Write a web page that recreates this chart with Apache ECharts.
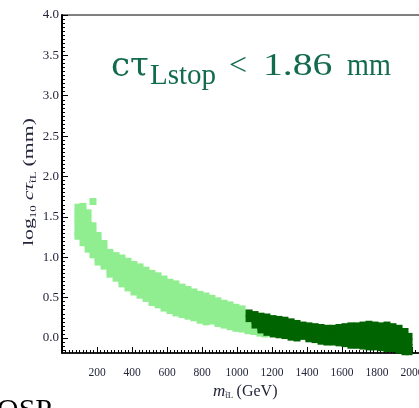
<!DOCTYPE html>
<html>
<head>
<meta charset="utf-8">
<script src="https://cdn.jsdelivr.net/npm/echarts@6/dist/echarts.min.js"></script>
<style>html,body{margin:0;padding:0;background:#fff;}#c{width:419px;height:408px;}</style>
</head>
<body>
<div id="c"></div>
<script>
// x tick labels (GeV) and y tick labels
const xTicks = [200, 400, 600, 800, 1000, 1200, 1400, 1600, 1800, 2000];
const yTicks = [0.0, 0.5, 1.0, 1.5, 2.0, 2.5, 3.0, 3.5, 4.0];

// Light-green points (m_stop < ~1150 GeV): [mass, list of log10 ctau values read in that column]
const lightColumns = [
  [91,  [1.62, 1.55, 1.47, 1.40, 1.32, 1.26]],
  [120, [1.63, 1.56, 1.48, 1.41, 1.33, 1.26, 1.18]],
  [149, [1.55, 1.47, 1.40, 1.32, 1.25, 1.17, 1.10]],
  [177, [1.69, 1.39, 1.32, 1.24, 1.17, 1.10, 1.03]],
  [206, [1.27, 1.20, 1.13, 1.06, 0.99, 0.94]],
  [240, [1.17, 1.10, 1.03, 0.96, 0.89]],
  [274, [1.06, 0.99, 0.92, 0.85, 0.79]],
  [309, [1.02, 0.95, 0.88, 0.81, 0.74]],
  [343, [0.99, 0.92, 0.85, 0.78, 0.71, 0.67]],
  [377, [0.95, 0.88, 0.81, 0.74, 0.67, 0.62]],
  [411, [0.91, 0.84, 0.77, 0.70, 0.63, 0.57]],
  [446, [0.88, 0.81, 0.74, 0.67, 0.60, 0.53]],
  [480, [0.84, 0.77, 0.70, 0.63, 0.56, 0.49]],
  [514, [0.80, 0.73, 0.66, 0.59, 0.52, 0.44]],
  [549, [0.77, 0.70, 0.63, 0.56, 0.48, 0.41]],
  [583, [0.73, 0.66, 0.59, 0.52, 0.44, 0.37]],
  [617, [0.69, 0.62, 0.55, 0.48, 0.40, 0.34]],
  [651, [0.67, 0.60, 0.53, 0.46, 0.38, 0.31]],
  [686, [0.63, 0.56, 0.49, 0.42, 0.35, 0.29]],
  [720, [0.60, 0.53, 0.46, 0.39, 0.32, 0.27]],
  [754, [0.57, 0.50, 0.43, 0.36, 0.29, 0.25]],
  [789, [0.54, 0.47, 0.40, 0.33, 0.26, 0.22]],
  [823, [0.52, 0.45, 0.38, 0.31, 0.24, 0.20]],
  [857, [0.49, 0.42, 0.35, 0.28, 0.21]],
  [891, [0.46, 0.39, 0.32, 0.25, 0.18]],
  [926, [0.43, 0.36, 0.29, 0.22, 0.16]],
  [960, [0.41, 0.34, 0.27, 0.20, 0.14]],
  [994, [0.38, 0.31, 0.24, 0.17, 0.12]],
  [1029,[0.36, 0.29, 0.22, 0.16, 0.11]],
  [1063,[0.30, 0.23, 0.16, 0.09]],
  [1097,[0.22, 0.15, 0.08]],
  [1131,[0.17, 0.11, 0.06]],
  [1160,[0.10, 0.05]]
];

// Dark-green points (m_stop > ~1050 GeV)
const darkColumns = [
  [1069, [0.31, 0.24]],
  [1103, [0.29, 0.22, 0.16]],
  [1137, [0.27, 0.20, 0.13, 0.10]],
  [1171, [0.26, 0.19, 0.12, 0.07]],
  [1206, [0.24, 0.17, 0.10, 0.05]],
  [1240, [0.23, 0.16, 0.09, 0.04]],
  [1274, [0.22, 0.15, 0.08, 0.03]],
  [1309, [0.20, 0.13, 0.06, 0.01]],
  [1343, [0.18, 0.11, 0.04, 0.00]],
  [1377, [0.16, 0.09, 0.02]],
  [1411, [0.15, 0.08, 0.01, -0.01]],
  [1446, [0.14, 0.07, 0.00, -0.02]],
  [1480, [0.13, 0.06, -0.01, -0.04]],
  [1514, [0.12, 0.05, -0.02, -0.05]],
  [1549, [0.12, 0.05, -0.02, -0.05]],
  [1583, [0.13, 0.06, -0.01, -0.06]],
  [1617, [0.14, 0.07, 0.00, -0.07]],
  [1651, [0.15, 0.08, 0.01, -0.06, -0.09]],
  [1686, [0.15, 0.08, 0.01, -0.06, -0.09]],
  [1720, [0.16, 0.09, 0.02, -0.05, -0.10]],
  [1754, [0.17, 0.10, 0.03, -0.04, -0.11]],
  [1789, [0.16, 0.09, 0.02, -0.05, -0.11]],
  [1823, [0.15, 0.08, 0.01, -0.06, -0.12]],
  [1857, [0.16, 0.09, 0.02, -0.05, -0.13]],
  [1891, [0.14, 0.07, 0.00, -0.07, -0.13]],
  [1926, [0.12, 0.05, -0.02, -0.09, -0.15]],
  [1960, [0.08, 0.01, -0.06, -0.13, -0.17]],
  [1983, [0.02, -0.05, -0.12, -0.17]]
];

function flatten(cols) {
  const out = [];
  cols.forEach(function (c) { c[1].forEach(function (v) { out.push([c[0], v]); }); });
  return out;
}
const lightPoints = flatten(lightColumns);
const darkPoints = flatten(darkColumns);

// minor tick positions on the y axis (every 0.05)
const yMinor = [];
for (let k = -3; k <= 80; k++) { if (k % 10 !== 0) yMinor.push(+(k * 0.05).toFixed(2)); }

const Y_MIN = -0.186, Y_MAX = 4.0;
const serif = 'Liberation Serif';
const labelColor = '#23253a';
const green = '#136b4f';

const chart = echarts.init(document.getElementById('c'), null, { renderer: 'canvas' });
const option = {
  backgroundColor: '#ffffff',
  animation: false,
  grid: { left: 62, top: 15, width: 385, height: 338, show: true, borderColor: '#000', borderWidth: 1,
          containLabel: false, outerBoundsMode: 'none' },
  xAxis: {
    type: 'value', min: 0, max: 2200, interval: 200,
    axisLine: { show: true, onZero: false, lineStyle: { color: '#000', width: 1.5 } },
    axisTick: { show: true, inside: true, length: 6, lineStyle: { color: '#000' } },
    minorTick: { show: true, splitNumber: 10, length: 3, lineStyle: { color: '#000' } },
    splitLine: { show: false },
    axisLabel: {
      showMinLabel: false, margin: 14, fontFamily: serif, fontSize: 11.5, color: labelColor,
      formatter: function (v) { return xTicks.indexOf(v) >= 0 ? String(v) : ''; }
    }
  },
  yAxis: [
    {
      type: 'value', min: Y_MIN, max: Y_MAX, position: 'left',
      axisLine: { show: true, onZero: false, lineStyle: { color: '#000', width: 2 } },
      axisTick: { show: true, inside: true, length: 6, customValues: yTicks, lineStyle: { color: '#000' } },
      splitLine: { show: false },
      axisLabel: {
        customValues: yTicks, margin: 3, fontFamily: serif, fontSize: 13, color: labelColor,
        formatter: function (v) { return Number(v).toFixed(1); }
      }
    },
    {
      type: 'value', min: Y_MIN, max: Y_MAX, position: 'left',
      axisLine: { show: false },
      axisTick: { show: true, inside: true, length: 3, customValues: yMinor, lineStyle: { color: '#000' } },
      splitLine: { show: false },
      axisLabel: { show: false }
    }
  ],
  series: [
    { type: 'scatter', yAxisIndex: 0, data: lightPoints, symbol: 'rect', symbolSize: 7, itemStyle: { color: '#90ee90', opacity: 1 }, silent: true },
    { type: 'scatter', yAxisIndex: 0, data: darkPoints, symbol: 'rect', symbolSize: 7, itemStyle: { color: '#006400', opacity: 1 }, silent: true }
  ],
  graphic: [
    { type: 'text', left: 111, top: 50, style: { text: 'cτ', font: '34px "DejaVu Serif"', fill: green } },
    { type: 'text', left: 150, top: 62, style: { text: 'Lstop', font: '29px "Liberation Serif"', fill: green } },
    { type: 'text', left: 229, top: 51, style: { text: '<', font: '32px "Liberation Serif"', fill: green } },
    { type: 'text', left: 263, top: 51, scaleX: 1.24, style: { text: '1.86', font: '32px "Liberation Serif"', fill: green } },
    { type: 'text', left: 347, top: 51, scaleX: 0.88, style: { text: 'mm', font: '32px "Liberation Serif"', fill: green } },
    { type: 'text', x: 20, y: 246, rotation: Math.PI / 2, scaleX: 1.45,
      style: { text: '{r|log}{s|10} {i|cτ}{s|t̃L} {r|(mm)}', fill: labelColor,
        rich: { r: { fontFamily: serif, fontSize: 15 }, i: { fontFamily: serif, fontStyle: 'italic', fontSize: 15 }, s: { fontFamily: serif, fontSize: 9, padding: [9, 0, 0, 0] } } } },
    { type: 'text', left: 213, top: 383,
      style: { text: '{i|m}{s|t̃L} {r|(GeV)}', fill: labelColor,
        rich: { r: { fontFamily: serif, fontSize: 16 }, i: { fontFamily: serif, fontStyle: 'italic', fontSize: 17 }, s: { fontFamily: serif, fontSize: 9, padding: [9, 0, 0, 0] } } } },
    { type: 'text', left: -3, top: 396, style: { text: 'OSP', font: '30px "Liberation Serif"', fill: '#000' } }
  ]
};
chart.setOption(option);
</script>
</body>
</html>
